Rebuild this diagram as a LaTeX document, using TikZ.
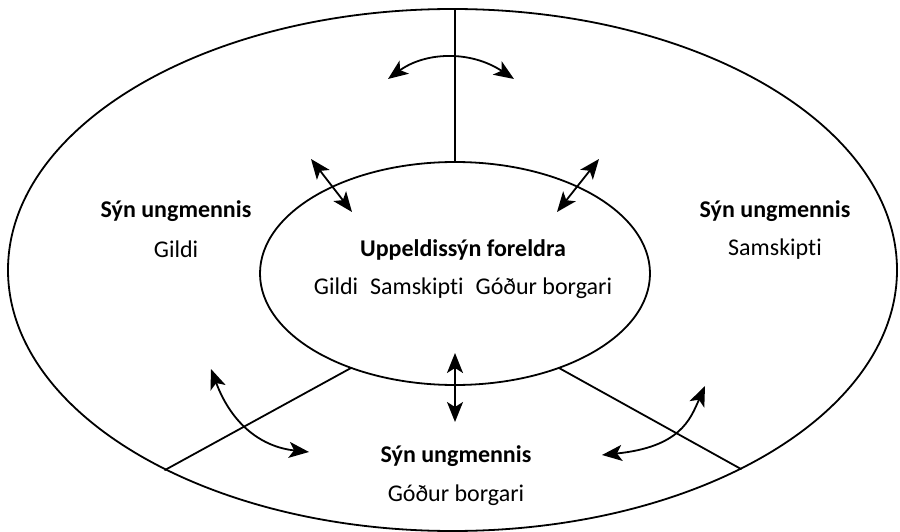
\documentclass[tikz,border=0pt]{standalone}
\usepackage{fontspec}
\setmainfont{Carlito}[Ligatures=NoCommon]
\usetikzlibrary{arrows.meta}
\begin{document}
\begin{tikzpicture}[x=1pt, y=-1pt, line width=1.8pt, line join=round, line cap=round,
  font=\fontsize{24}{28}\selectfont]
	\tikzset{
	  heading/.style={font=\fontsize{24}{28}\selectfont\bfseries, inner sep=0pt},
	  item/.style={inner sep=0pt},
	  twoway/.style={{Stealth[length=20pt,width=16pt,inset=5pt]}-{Stealth[length=20pt,width=16pt,inset=5pt]}},
	}
	\useasboundingbox (0,0) rectangle (900,532);
	% ellipses
	\draw (452.5,270) ellipse [x radius=444.5pt, y radius=261pt];
	\draw (455,273.5) ellipse [x radius=195pt, y radius=111.5pt];
	% dividers
	\coordinate (topOut) at (455,9);
	\coordinate (topIn) at (455,162);
	\coordinate (leftIn) at (351,368);
	\coordinate (leftOut) at (165,470);
	\coordinate (rightIn) at (559,368);
	\coordinate (rightOut) at (741,469);
	\draw (topOut) -- (topIn);
	\draw (leftIn) -- (leftOut);
	\draw (rightIn) -- (rightOut);
	% texts
	\node[heading] (leftHead) at (176,211) {Sýn ungmennis};
	\node[item] (leftSub) at (176,249) {Gildi};
	\node[heading] (rightHead) at (775,211) {Sýn ungmennis};
	\node[item] (rightSub) at (775,249) {Samskipti};
	\node[heading] (botHead) at (456,456) {Sýn ungmennis};
	\node[item] (botSub) at (456,495) {Góður borgari};
	\node[heading] (midHead) at (463,250) {Uppeldissýn foreldra};
	\node[item] (midSub) at (463,288) {Gildi\hspace{0.5em}Samskipti\hspace{0.5em}Góður borgari};
	% arrows
	\coordinate (a1) at (388,79);  \coordinate (a2) at (514,79);
	\coordinate (b1) at (311,159); \coordinate (b2) at (352,212);
	\coordinate (c1) at (599,159); \coordinate (c2) at (557,212);
	\coordinate (d1) at (455,353); \coordinate (d2) at (455,422);
	\coordinate (e1) at (211,369); \coordinate (e2) at (309,452);
	\coordinate (f1) at (705,386); \coordinate (f2) at (602,455);
	\draw[twoway] (a1) .. controls (425,52) and (470,50) .. (a2);
	\draw[twoway] (b1) -- (b2);
	\draw[twoway] (c1) -- (c2);
	\draw[twoway] (d1) -- (d2);
	\draw[twoway] (e1) .. controls (232,425) and (262,447) .. (e2);
	\draw[twoway] (f1) .. controls (690,420) and (680,447) .. (f2);
\end{tikzpicture}
\end{document}
